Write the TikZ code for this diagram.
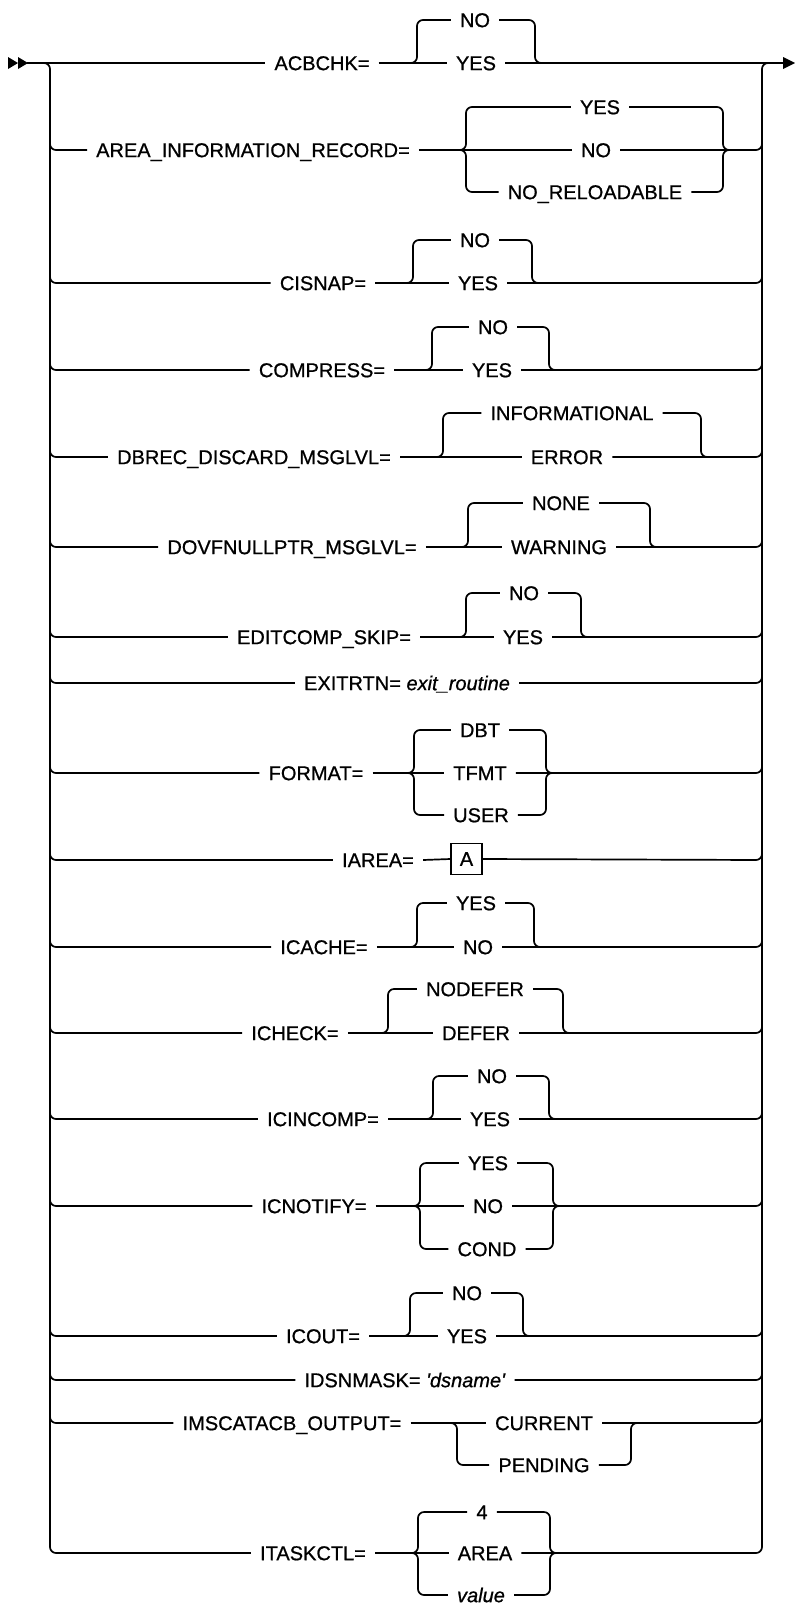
\documentclass[tikz,border=0pt]{standalone}
\usepackage{fontspec}
\setmainfont{Liberation Sans}
\newfontfamily\kwfam{Liberation Sans}[FakeBold=0.8]
\usetikzlibrary{calc}
\newcommand\kwfont{\kwfam\fontsize{20}{24}\selectfont}
\newcommand\altbranch[3]{%
  \draw[br] ([xshift=-10pt]#1) -- (#1) -- (#1 |- #2) -- (#2.west);
  \draw[br] (#2.east) -- (#3 |- #2) -- (#3) -- ([xshift=10pt]#3);}
\newcommand\busin[2]{\draw[br] ([yshift=14pt]#1) -- (#1) -- (#2.west);}
\newcommand\busout[2]{\draw[br] (#2.east) -- (#1) -- ([yshift=14pt]#1);}
\begin{document}
\begin{tikzpicture}[x=1pt,y=-1pt,
  ln/.style={line width=1.7pt},
  br/.style={line width=1.7pt, rounded corners=6pt},
  bus/.style={line width=2.6pt},
  kw/.style={inner xsep=9pt, inner ysep=0pt, text height=14.3pt, text depth=0pt, font=\kwfont},
  boxkw/.style={draw, line width=1.7pt, minimum width=31pt, minimum height=31pt, inner sep=0pt, font=\kwfont}]
\useasboundingbox (0,0) rectangle (795,1604);

% start and end marks
\fill (8,57) -- (18,63) -- (8,69) -- cycle;
\fill (18,57) -- (28,63) -- (18,69) -- cycle;
\fill (783,57) -- (795,63) -- (783,69) -- cycle;
\coordinate (S) at (27,63);
\coordinate (E) at (784,63);

% bus coordinates
\foreach \k/\y in {1/63,2/150,3/283,4/370,5/457,6/547,7/637,8/683,9/773,10/860,11/947,12/1033,13/1119,14/1206,15/1336,16/1380,17/1423,18/1553}{
  \coordinate (L\k) at (50,\y);
  \coordinate (R\k) at (762,\y);
}
\draw[bus] ([yshift=-6pt]L1) -- ([yshift=6pt]L18);
\draw[bus] ([yshift=-6pt]R1) -- ([yshift=6pt]R18);
\draw[br] ([xshift=-8pt]L1) -- (L1) -- ([yshift=-14pt]L1);
\draw[br] ([yshift=-14pt]R1) -- (R1) -- ([xshift=8pt]R1);

% row 1
\node[kw] (r1) at (322,63) {ACBCHK=};
\node[kw] (r1a) at (475,20) {NO};
\node[kw] (r1b) at (476,63) {YES};
\coordinate (c1l) at (417,63); \coordinate (c1r) at (535,63);
\draw[ln] (S) -- (r1.west);
\draw[ln] (r1.east) -- (r1b.west);
\draw[ln] (r1b.east) -- (E);
\altbranch{c1l}{r1a}{c1r}

% row 2
\node[kw] (r2) at (253,150) {AREA\_INFORMATION\_RECORD=\hspace{12pt}};
\node[kw] (r2a) at (600,107) {YES};
\node[kw] (r2b) at (596,150) {NO};
\node[kw] (r2c) at (595,192) {NO\_RELOADABLE\hspace{8pt}};
\coordinate (c2l) at (466,150); \coordinate (c2r) at (723,150);
\busin{L2}{r2}
\draw[ln] (r2.east) -- (r2b.west);
\busout{R2}{r2b}
\altbranch{c2l}{r2a}{c2r}
\altbranch{c2l}{r2c}{c2r}

% row 3
\node[kw] (r3) at (323,283) {CISNAP=};
\node[kw] (r3a) at (475,240) {NO};
\node[kw] (r3b) at (478,283) {YES};
\coordinate (c3l) at (413,283); \coordinate (c3r) at (532,283);
\busin{L3}{r3}
\draw[ln] (r3.east) -- (r3b.west);
\busout{R3}{r3b}
\altbranch{c3l}{r3a}{c3r}

% row 4
\node[kw] (r4) at (322,370) {COMPRESS=};
\node[kw] (r4a) at (493,327) {NO};
\node[kw] (r4b) at (492,370) {YES};
\coordinate (c4l) at (432,370); \coordinate (c4r) at (549,370);
\busin{L4}{r4}
\draw[ln] (r4.east) -- (r4b.west);
\busout{R4}{r4b}
\altbranch{c4l}{r4a}{c4r}

% row 5
\node[kw] (r5) at (254,457) {DBREC\_DISCARD\_MSGLVL=\hspace{12pt}};
\node[kw] (r5a) at (572,413) {INFORMATIONAL\hspace{8pt}};
\node[kw] (r5b) at (567,457) {ERROR};
\coordinate (c5l) at (443,457); \coordinate (c5r) at (701,457);
\busin{L5}{r5}
\draw[ln] (r5.east) -- (r5b.west);
\busout{R5}{r5b}
\altbranch{c5l}{r5a}{c5r}

% row 6
\node[kw] (r6) at (292,547) {DOVFNULLPTR\_MSGLVL=\hspace{11pt}};
\node[kw] (r6a) at (561,503) {NONE};
\node[kw] (r6b) at (559,547) {WARNING};
\coordinate (c6l) at (468,547); \coordinate (c6r) at (650,547);
\busin{L6}{r6}
\draw[ln] (r6.east) -- (r6b.west);
\busout{R6}{r6b}
\altbranch{c6l}{r6a}{c6r}

% row 7
\node[kw] (r7) at (324,637) {EDITCOMP\_SKIP=\hspace{8pt}};
\node[kw] (r7a) at (524,593) {NO};
\node[kw] (r7b) at (523,637) {YES};
\coordinate (c7l) at (466,637); \coordinate (c7r) at (581,637);
\busin{L7}{r7}
\draw[ln] (r7.east) -- (r7b.west);
\busout{R7}{r7b}
\altbranch{c7l}{r7a}{c7r}

% row 8
\node[kw] (r8) at (407,683) {EXITRTN= \textit{exit\_routine}\hspace{7pt}};
\busin{L8}{r8}
\busout{R8}{r8}

% row 9
\node[kw] (r9) at (316,773) {FORMAT=};
\node[kw] (r9a) at (480,730) {DBT};
\node[kw] (r9b) at (480,773) {TFMT};
\node[kw] (r9c) at (481,815) {USER};
\coordinate (c9l) at (414,773); \coordinate (c9r) at (546,773);
\busin{L9}{r9}
\draw[ln] (r9.east) -- (r9b.west);
\busout{R9}{r9b}
\altbranch{c9l}{r9a}{c9r}
\altbranch{c9l}{r9c}{c9r}

% row 10
\node[kw] (r10) at (378,860) {IAREA=};
\node[boxkw] (r10a) at (466.5,859) {A};
\busin{L10}{r10}
\draw[ln] (r10.east) -- (r10a.west);
\busout{R10}{r10a}

% row 11
\node[kw] (r11) at (324,947) {ICACHE=};
\node[kw] (r11a) at (476,903) {YES};
\node[kw] (r11b) at (478,947) {NO};
\coordinate (c11l) at (417,947); \coordinate (c11r) at (534,947);
\busin{L11}{r11}
\draw[ln] (r11.east) -- (r11b.west);
\busout{R11}{r11b}
\altbranch{c11l}{r11a}{c11r}

% row 12
\node[kw] (r12) at (295,1033) {ICHECK=};
\node[kw] (r12a) at (475,989) {NODEFER};
\node[kw] (r12b) at (476,1033) {DEFER};
\coordinate (c12l) at (388,1033); \coordinate (c12r) at (563,1033);
\busin{L12}{r12}
\draw[ln] (r12.east) -- (r12b.west);
\busout{R12}{r12b}
\altbranch{c12l}{r12a}{c12r}

% row 13
\node[kw] (r13) at (323,1119) {ICINCOMP=};
\node[kw] (r13a) at (492,1076) {NO};
\node[kw] (r13b) at (490,1119) {YES};
\coordinate (c13l) at (433,1119); \coordinate (c13r) at (549,1119);
\busin{L13}{r13}
\draw[ln] (r13.east) -- (r13b.west);
\busout{R13}{r13b}
\altbranch{c13l}{r13a}{c13r}

% row 14
\node[kw] (r14) at (314,1206) {ICNOTIFY=};
\node[kw] (r14a) at (488,1163) {YES};
\node[kw] (r14b) at (488,1206) {NO};
\node[kw] (r14c) at (487,1249) {COND};
\coordinate (c14l) at (420,1206); \coordinate (c14r) at (553,1206);
\busin{L14}{r14}
\draw[ln] (r14.east) -- (r14b.west);
\busout{R14}{r14b}
\altbranch{c14l}{r14a}{c14r}
\altbranch{c14l}{r14c}{c14r}

% row 15
\node[kw] (r15) at (323,1336) {ICOUT=};
\node[kw] (r15a) at (467,1293) {NO};
\node[kw] (r15b) at (467,1336) {YES};
\coordinate (c15l) at (410,1336); \coordinate (c15r) at (523,1336);
\busin{L15}{r15}
\draw[ln] (r15.east) -- (r15b.west);
\busout{R15}{r15b}
\altbranch{c15l}{r15a}{c15r}

% row 16
\node[kw] (r16) at (405,1380) {IDSNMASK= \textit{\textquotesingle dsname\textquotesingle}};
\busin{L16}{r16}
\busout{R16}{r16}

% row 17
\node[kw] (r17) at (292,1423) {IMSCATACB\_OUTPUT=\hspace{12pt}};
\node[kw] (r17a) at (544,1423) {CURRENT};
\node[kw] (r17b) at (544,1465) {PENDING};
\coordinate (c17l) at (457,1423); \coordinate (c17r) at (631,1423);
\busin{L17}{r17}
\draw[ln] (r17.east) -- (r17a.west);
\busout{R17}{r17a}
\altbranch{c17l}{r17b}{c17r}

% row 18
\node[kw] (r18) at (313,1553) {ITASKCTL=};
\node[kw] (r18a) at (482,1512) {4};
\node[kw] (r18b) at (485,1553) {AREA};
\node[kw] (r18c) at (481,1595) {\textit{value}};
\coordinate (c18l) at (418,1553); \coordinate (c18r) at (550,1553);
\busin{L18}{r18}
\draw[ln] (r18.east) -- (r18b.west);
\busout{R18}{r18b}
\altbranch{c18l}{r18a}{c18r}
\altbranch{c18l}{r18c}{c18r}
\end{tikzpicture}
\end{document}
